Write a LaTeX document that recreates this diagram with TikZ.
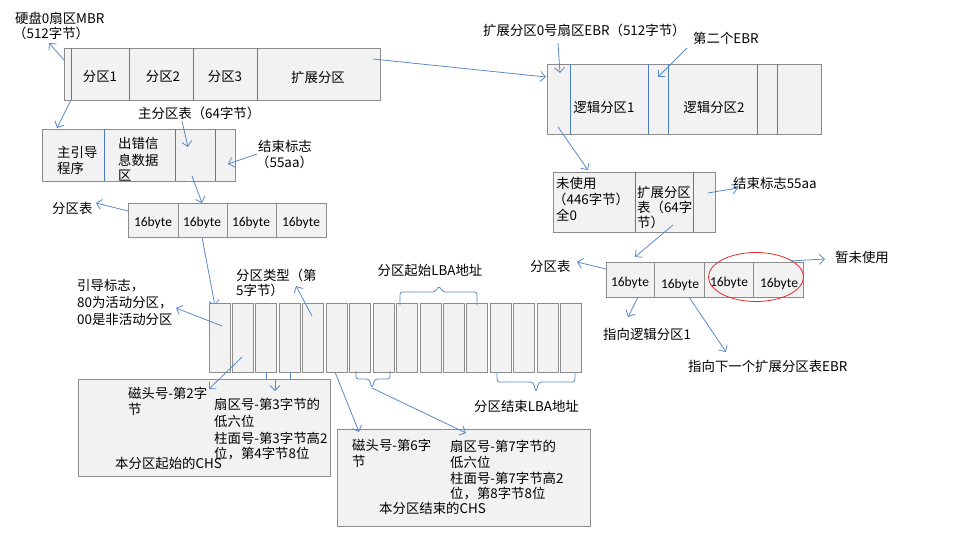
\documentclass[tikz,border=0pt]{standalone}
\usepackage{fontspec}
\newfontfamily\cjk{Noto Sans CJK SC}
\newfontfamily\calf{Carlito}
\usetikzlibrary{arrows.meta,shapes.geometric}
\definecolor{boxfill}{HTML}{F2F2F2}
\definecolor{boxline}{HTML}{8C8C8C}
\definecolor{divblue}{HTML}{4A7EBB}
\definecolor{arrblue}{HTML}{5A8AC6}
\definecolor{ringred}{HTML}{E8282A}
\begin{document}
\begin{tikzpicture}[x=1pt,y=-1pt,
  box/.style={draw=boxline, fill=boxfill, line width=0.9pt, inner sep=0pt, anchor=north west},
  div/.style={draw=divblue, line width=0.9pt},
  gdiv/.style={draw=boxline, line width=0.9pt},
  arr/.style={draw=arrblue, line width=0.8pt, -{Straight Barb[length=5pt,width=10pt,line width=0.8pt]}},
  brc/.style={draw=arrblue, line width=0.8pt, rounded corners=2.5pt},
  txt/.style={font=\cjk\fontsize{13.4}{16}\selectfont, inner sep=0pt, anchor=west},
  ctxt/.style={txt, anchor=center},
  byt/.style={font=\calf\fontsize{13.5}{16}\selectfont, inner sep=0pt, anchor=center}]
\useasboundingbox (0,0) rectangle (975,544);

% ---------------- MBR ----------------
\node[box, minimum width=316pt, minimum height=52pt] (mbr) at (64,48) {};
\foreach \x in {71,129,193,257} \draw[div] (\x,48) -- (\x,100);
\node[ctxt] (p1) at (100,77) {分区1};
\node[ctxt] (p2) at (163,77) {分区2};
\node[ctxt] (p3) at (225,77) {分区3};
\node[ctxt] (p4) at (318,77) {扩展分区};
\node[txt] (tmbr1) at (15,18) {硬盘0扇区MBR};
\node[txt] (tmbr2) at (13,33) {（512字节）};

\coordinate (a1s) at (64,60); \coordinate (a1e) at (49,43);
\draw[arr] (a1s) -- (a1e);
\coordinate (a2s) at (71,100); \coordinate (a2e) at (57,128);
\draw[arr] (a2s) -- (a2e);

% ---------------- MBR detail ----------------
\node[box, minimum width=193pt, minimum height=52pt] (mbrd) at (42,129) {};
\foreach \x in {104,175,215} \draw[div] (\x,129) -- (\x,181);
\node[txt] (m1a) at (57,152) {主引导};
\node[txt] (m1b) at (57,168) {程序};
\node[txt] (m2a) at (118,143) {出错信};
\node[txt] (m2b) at (118,160) {息数据};
\node[txt] (m2c) at (118,176) {区};
\node[txt] (tpt) at (138,113) {主分区表（64字节）};
\node[txt] (tend1) at (258,146) {结束标志};
\node[txt] (tend2) at (256,162) {（55aa）};

\coordinate (a3s) at (182,121); \coordinate (a3e) at (188,147);
\draw[arr] (a3s) -- (a3e);
\coordinate (a4s) at (257,154); \coordinate (a4e) at (228,164);
\draw[arr] (a4s) -- (a4e);
\coordinate (a5s) at (192,176); \coordinate (a5e) at (202,203);
\draw[arr] (a5s) -- (a5e);

% ---------------- partition table 1 ----------------
\node[box, minimum width=198pt, minimum height=34pt] (tab1) at (128,203) {};
\foreach \x in {178,227,276} \draw[gdiv] (\x,203) -- (\x,237);
\node[byt] (e1) at (153,223) {16byte};
\node[byt] (e2) at (202,223) {16byte};
\node[byt] (e3) at (251,223) {16byte};
\node[byt] (e4) at (301,223) {16byte};
\node[txt] (tpl1) at (52,208) {分区表};
\coordinate (a6s) at (128,211); \coordinate (a6e) at (96,203);
\draw[arr] (a6s) -- (a6e);
\coordinate (a7s) at (202,237); \coordinate (a7e) at (215,306);
\draw[arr] (a7s) -- (a7e);

% ---------------- 16 bytes ----------------
\foreach \i in {0,...,15}
  \node[box, minimum width=21pt, minimum height=69pt] (b\i) at ({208.5+23.45*\i},303) {};

\node[txt] (g1) at (77,286) {引导标志，};
\node[txt] (g2) at (77,303) {80为活动分区，};
\node[txt] (g3) at (77,319) {00是非活动分区};
\coordinate (a8s) at (222,326); \coordinate (a8e) at (176,308);
\draw[arr] (a8s) -- (a8e);

\node[txt] (ty1) at (236,275) {分区类型（第};
\node[txt] (ty2) at (236,290) {5字节）};
\coordinate (a9s) at (312,316); \coordinate (a9e) at (296,286);
\draw[arr] (a9s) -- (a9e);

\node[ctxt] (lba1) at (430,270) {分区起始LBA地址};
\draw[brc] (400,305) -- (400,292) -- (435,292) -- (439,286) -- (443,292) -- (477,292) -- (477,305);

% bracket under bytes 3-4
\draw[brc, rounded corners=0pt] (266,372) -- (266,379) -- (290,379) -- (290,372);
\coordinate (a10s) at (275,379); \coordinate (a10e) at (275,391);

% brace under bytes 7-8
\draw[brc] (356,371) -- (356,379) -- (369,379) -- (372,388) -- (375,379) -- (390,379) -- (390,371);
\coordinate (a11s) at (372,388); \coordinate (a11e) at (466,433);

% brace under bytes 13-16
\draw[brc] (497,372) -- (497,382) -- (533,382) -- (536,392) -- (539,382) -- (575,382) -- (575,372);
\node[txt] (lba2) at (474,406) {分区结束LBA地址};

% arrows to CHS boxes
\coordinate (a12s) at (242,357); \coordinate (a12e) at (209,389);
\coordinate (a13s) at (335,372); \coordinate (a13e) at (359,432);

% ---------------- CHS box 1 ----------------
\node[box, minimum width=252pt, minimum height=97pt] (chs1) at (78,379) {};
\node[txt] (c1a) at (128,393) {磁头号-第2字};
\node[txt] (c1b) at (128,409) {节};
\node[txt] (c1c) at (214,404) {扇区号-第3字节的};
\node[txt] (c1d) at (214,421) {低六位};
\node[txt] (c1e) at (214,438) {柱面号-第3字节高2};
\node[txt] (c1f) at (214,454) {位，第4字节8位};
\node[txt] (c1g) at (115,463) {本分区起始的CHS};
\draw[arr] (a12s) -- (a12e);
\draw[arr] (a10s) -- (a10e);

% ---------------- CHS box 2 ----------------
\node[box, minimum width=253pt, minimum height=97pt] (chs2) at (337,429) {};
\node[txt] (c2a) at (352,445) {磁头号-第6字};
\node[txt] (c2b) at (352,461) {节};
\node[txt] (c2c) at (450,446) {扇区号-第7字节的};
\node[txt] (c2d) at (450,462) {低六位};
\node[txt] (c2e) at (450,478) {柱面号-第7字节高2};
\node[txt] (c2f) at (450,494) {位，第8字节8位};
\node[txt] (c2g) at (379,508) {本分区结束的CHS};
\draw[arr] (a13s) -- (a13e);
\draw[arr] (a11s) -- (a11e);

% ---------------- EBR ----------------
\node[box, minimum width=274pt, minimum height=70pt] (ebr) at (547,64) {};
\foreach \x in {570,648,668,757,777} \draw[div] (\x,64) -- (\x,134);
\node[ctxt] (lg1) at (604,107) {逻辑分区1};
\node[ctxt] (lg2) at (714,107) {逻辑分区2};
\node[txt] (tebr) at (483,30) {扩展分区0号扇区EBR（512字节）};
\node[txt] (tebr2) at (693,38) {第二个EBR};

\coordinate (b1s) at (373,59); \coordinate (b1e) at (546,77);
\draw[arr] (b1s) -- (b1e);
\coordinate (b2s) at (558,43); \coordinate (b2e) at (560,73);
\draw[arr] (b2s) -- (b2e);
\coordinate (b3s) at (687,48); \coordinate (b3e) at (658,77);
\draw[arr] (b3s) -- (b3e);
\coordinate (b4s) at (558,127); \coordinate (b4e) at (588,170);
\draw[arr] (b4s) -- (b4e);

% ---------------- EBR detail ----------------
\node[box, minimum width=162pt, minimum height=60pt] (ebrd) at (553,172) {};
\foreach \x in {635,693} \draw[div] (\x,172) -- (\x,232);
\node[txt] (u1) at (556,183) {未使用};
\node[txt] (u2) at (553,199) {（446字节）};
\node[txt] (u3) at (556,215) {全0};
\node[txt] (x1) at (637,192) {扩展分区};
\node[txt] (x2) at (637,207) {表（64字};
\node[txt] (x3) at (637,222) {节）};
\node[txt] (tend3) at (733,183) {结束标志55aa};
\coordinate (b5s) at (708,193); \coordinate (b5e) at (738,188);
\draw[arr] (b5s) -- (b5e);
\coordinate (b6s) at (673,225); \coordinate (b6e) at (635,257);
\draw[arr] (b6s) -- (b6e);

% ---------------- partition table 2 ----------------
\node[box, minimum width=197pt, minimum height=35pt] (tab2) at (606,262) {};
\foreach \x in {654,704,753} \draw[gdiv] (\x,262) -- (\x,297);
\node[byt] (f1) at (630,283) {16byte};
\node[byt] (f2) at (680,285) {16byte};
\node[byt] (f3) at (729,283) {16byte};
\node[byt] (f4) at (779,284) {16byte};
\node[draw=ringred, ellipse, line width=0.8pt, inner sep=0pt, minimum width=95pt, minimum height=49pt] (ring) at (756,277) {};
\node[txt] (tpl2) at (530,266) {分区表};
\coordinate (b7s) at (606,269); \coordinate (b7e) at (577,262);
\draw[arr] (b7s) -- (b7e);
\node[txt] (unused) at (835,257) {暂未使用};
\coordinate (b8s) at (790,261); \coordinate (b8e) at (825,259);
\draw[arr] (b8s) -- (b8e);
\coordinate (b9s) at (638,297); \coordinate (b9e) at (628,317);
\draw[arr] (b9s) -- (b9e);
\node[txt] (to1) at (603,334) {指向逻辑分区1};
\coordinate (b10s) at (689,297); \coordinate (b10e) at (726,352);
\draw[arr] (b10s) -- (b10e);
\node[txt] (to2) at (688,366) {指向下一个扩展分区表EBR};
\end{tikzpicture}
\end{document}
